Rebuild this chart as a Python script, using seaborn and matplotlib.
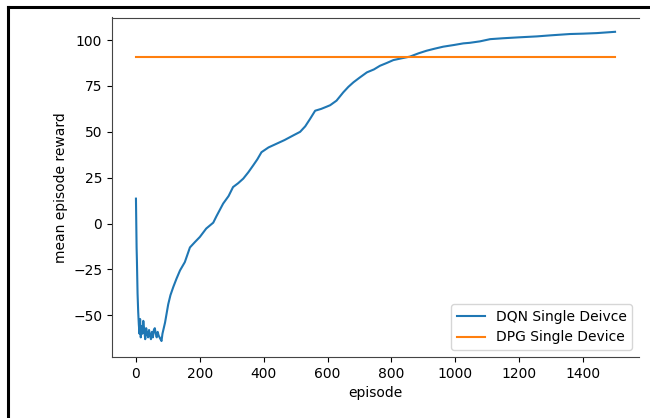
import matplotlib
matplotlib.use("Agg")
import matplotlib.pyplot as plt
from matplotlib.lines import Line2D
import seaborn as sns
import pandas as pd

# ---- data ----
dqn_episodes = [0, 2, 3, 5, 7, 9, 11, 13, 15, 18, 20, 23, 26, 29, 32, 35, 38, 41, 44, 47,
                50, 53, 56, 59, 62, 65, 68, 71, 74, 77, 80, 83, 87, 91, 96, 101, 108, 117,
                127, 138, 153, 169, 185, 200, 220, 242, 252, 273, 290, 304, 320, 336, 352,
                367, 380, 393, 415, 440, 465, 492, 514, 530, 545, 561, 580, 597, 608, 628,
                649, 665, 681, 700, 723, 745, 764, 785, 806, 830, 858, 885, 910, 935, 962,
                995, 1025, 1045, 1077, 1109, 1150, 1200, 1255, 1300, 1359, 1400, 1443, 1500]
dqn_reward = [13.6, -13, -20, -38, -48, -55, -60, -52, -62, -56, -60, -53, -58, -63, -57,
              -60, -62, -58, -61, -63, -59, -62, -58, -57, -60, -62, -59, -61, -62, -63,
              -64, -60, -57, -54, -49, -44, -39, -34.5, -30, -25.5, -21, -13, -10, -7.3,
              -2.7, 0.5, 4, 10.9, 15, 19.9, 22, 24.5, 28, 31.7, 35, 38.9, 41.5, 43.5, 45.5,
              48, 50, 53, 57, 61.5, 62.5, 63.7, 64.5, 67, 71.5, 74.5, 77, 79.5, 82.4, 84,
              86, 87.5, 89.1, 90, 91, 92.8, 94.2, 95.3, 96.4, 97.3, 98.2, 98.5, 99.3, 100.5,
              101, 101.5, 102, 102.6, 103.3, 103.5, 103.8, 104.5]
dpg_episodes = [0, 1500]
dpg_reward = [90.7, 90.7]
series_names = ["DQN Single Deivce", "DPG Single Device"]
x_ticks = [0, 200, 400, 600, 800, 1000, 1200, 1400]
y_ticks = [-50, -25, 0, 25, 50, 75, 100]

df = pd.concat([
    pd.DataFrame({"episode": dqn_episodes, "reward": dqn_reward, "series": series_names[0]}),
    pd.DataFrame({"episode": dpg_episodes, "reward": dpg_reward, "series": series_names[1]}),
], ignore_index=True)

plt.rcParams['font.family'] = ['DejaVu Sans']
fig = plt.figure(figsize=(6.5, 4.18), dpi=100)
W, H = 650, 418
ax = fig.add_axes([112 / W, 1 - 357 / H, (639 - 112) / W, (357 - 17.5) / H])

sns.lineplot(data=df, x="episode", y="reward", hue="series",
             palette=["#1f77b4", "#ff7f0e"], linewidth=1.5, ax=ax,
             estimator=None, sort=False)

ax.set_xlim(-75, 1575)
ax.set_ylim(-72.7, 112.3)
ax.set_xticks(x_ticks)
ax.set_yticks(y_ticks)
ax.set_xlabel("episode", fontsize=10)
ax.set_ylabel("mean episode reward", fontsize=10)
ax.tick_params(labelsize=10)
ax.spines['right'].set_visible(False)
for s in ['top', 'left', 'bottom']:
    ax.spines[s].set_color('#444444')

leg = ax.legend(loc="lower right", fontsize=10, title=None)

# screenshot frame (top and left black border)
fig.add_artist(Line2D([7.5 / W, 1.0], [1 - 6.5 / H, 1 - 6.5 / H], color='black', linewidth=2.2,
                      transform=fig.transFigure))
fig.add_artist(Line2D([7.5 / W, 7.5 / W], [0, 1 - 6.5 / H], color='black', linewidth=2.2,
                      transform=fig.transFigure))

fig.savefig("out.png", dpi=100)
